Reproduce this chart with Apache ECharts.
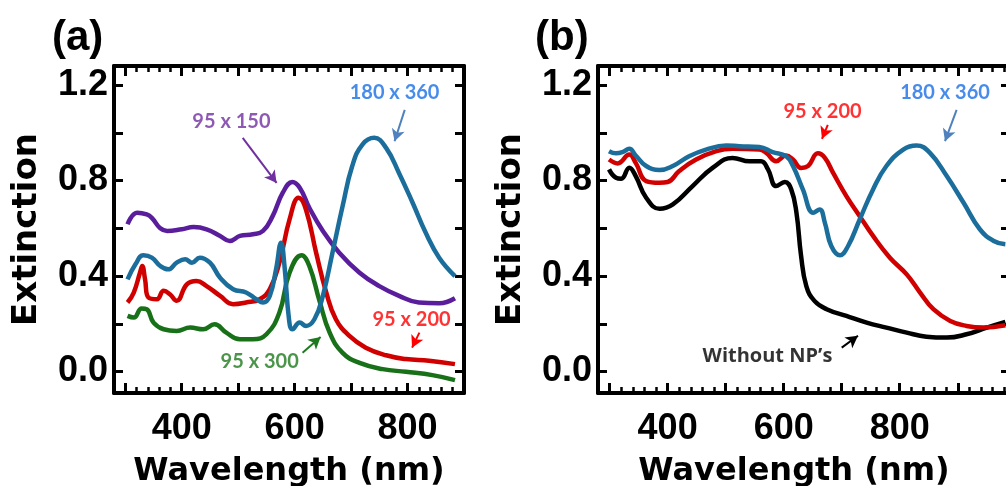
<!DOCTYPE html>
<html>
<head>
<meta charset="utf-8">
<script src="https://cdn.jsdelivr.net/npm/echarts@6/dist/echarts.min.js"></script>
<style>
  html, body { margin: 0; padding: 0; background: #fff; }
  #chart { width: 1006px; height: 486px; }
</style>
</head>
<body>
<div id="chart"></div>
<script>
// ---- panel (a) ----
const wlA150 = [304, 321, 338, 347, 362, 374, 400, 421, 444, 468, 485, 503, 526, 544, 561, 579, 596, 609, 626, 650, 679, 715, 750, 785, 820, 856, 884];
const extA150 = [0.617, 0.665, 0.658, 0.644, 0.600, 0.589, 0.596, 0.605, 0.596, 0.568, 0.547, 0.568, 0.575, 0.589, 0.651, 0.749, 0.794, 0.770, 0.686, 0.589, 0.498, 0.414, 0.358, 0.317, 0.289, 0.286, 0.307];

const wlA200 = [304, 315, 326, 330, 335, 341, 356, 368, 379, 391, 409, 426, 444, 468, 491, 514, 538, 556, 573, 591, 607, 620, 638, 656, 673, 697, 726, 762, 797, 838, 884];
const extA200 = [0.289, 0.331, 0.414, 0.442, 0.386, 0.310, 0.303, 0.338, 0.324, 0.296, 0.365, 0.379, 0.358, 0.317, 0.282, 0.289, 0.303, 0.345, 0.456, 0.637, 0.728, 0.679, 0.498, 0.331, 0.219, 0.149, 0.100, 0.068, 0.052, 0.045, 0.031];

const wlA300 = [304, 315, 329, 338, 350, 368, 391, 415, 438, 458, 479, 503, 526, 550, 573, 591, 612, 626, 644, 662, 685, 715, 756, 797, 844, 884];
const extA300 = [0.233, 0.226, 0.264, 0.261, 0.205, 0.177, 0.170, 0.184, 0.177, 0.198, 0.163, 0.135, 0.135, 0.156, 0.247, 0.414, 0.487, 0.442, 0.296, 0.163, 0.078, 0.036, 0.010, -0.001, -0.015, -0.036];

const wlA360 = [304, 318, 332, 347, 362, 376, 391, 406, 418, 432, 450, 468, 491, 514, 532, 544, 556, 567, 576, 582, 590, 596, 609, 620, 635, 650, 667, 685, 702, 720, 741, 762, 785, 809, 832, 856, 884];
const extA360 = [0.386, 0.449, 0.487, 0.477, 0.442, 0.428, 0.456, 0.470, 0.456, 0.477, 0.456, 0.393, 0.345, 0.331, 0.303, 0.289, 0.317, 0.428, 0.540, 0.442, 0.219, 0.177, 0.205, 0.191, 0.219, 0.317, 0.498, 0.693, 0.861, 0.951, 0.979, 0.937, 0.831, 0.707, 0.582, 0.477, 0.400];

// ---- panel (b) ----
const wlB360 = [299, 311, 322, 334, 345, 363, 386, 409, 437, 466, 501, 524, 558, 581, 604, 616, 633, 651, 662, 671, 682, 697, 711, 731, 754, 777, 806, 829, 852, 881, 910, 938, 962, 982];
const extB360 = [0.923, 0.914, 0.919, 0.933, 0.905, 0.861, 0.844, 0.861, 0.902, 0.930, 0.947, 0.944, 0.941, 0.919, 0.902, 0.861, 0.763, 0.665, 0.679, 0.623, 0.526, 0.487, 0.526, 0.637, 0.763, 0.861, 0.930, 0.947, 0.916, 0.819, 0.707, 0.596, 0.547, 0.533];

const wlB200 = [299, 314, 334, 345, 363, 386, 400, 420, 449, 484, 512, 558, 570, 587, 604, 616, 630, 642, 659, 671, 685, 708, 731, 754, 783, 812, 835, 858, 887, 915, 944, 982];
const extB200 = [0.888, 0.872, 0.909, 0.874, 0.798, 0.791, 0.794, 0.840, 0.888, 0.923, 0.933, 0.930, 0.916, 0.881, 0.905, 0.888, 0.853, 0.861, 0.914, 0.895, 0.833, 0.735, 0.651, 0.568, 0.477, 0.407, 0.331, 0.261, 0.212, 0.191, 0.184, 0.194];

const wlB0 = [299, 311, 320, 334, 345, 363, 386, 409, 443, 478, 512, 541, 561, 573, 587, 602, 613, 622, 630, 639, 653, 674, 708, 743, 777, 812, 846, 881, 915, 950, 982];
const extB0 = [0.847, 0.812, 0.808, 0.854, 0.819, 0.728, 0.682, 0.700, 0.777, 0.854, 0.895, 0.881, 0.881, 0.847, 0.777, 0.794, 0.763, 0.665, 0.484, 0.358, 0.296, 0.261, 0.233, 0.205, 0.184, 0.163, 0.146, 0.142, 0.156, 0.184, 0.208];

// ---- axes ----
const yTicks = [0, 0.2, 0.4, 0.6, 0.8, 1.0, 1.2];
const yLabels = [0, 0.4, 0.8, 1.2];
const xLabels = [400, 600, 800];
const xMajorA = [300, 400, 500, 600, 700, 800, 900];
const xMajorB = [300, 400, 500, 600, 700, 800, 900];
const xMinor = [];
for (let v = 300; v <= 980; v += 20) xMinor.push(v);

// ---- annotations: [text, color, textX, textY, arrowFrom, arrowTo, arrowColor] ----
const notesA = [
  ["180 x 360", "#1A6FE6", 777, 1.17, [795, 1.096], [777, 0.965], "#4F81BD"],
  ["95 x 150", "#7030A0", 488, 1.046, [508, 0.979], [568, 0.79], "#7030A0"],
  ["95 x 200", "#FF0000", 807, 0.218, [821, 0.163], [808, 0.10], "#FF0000"],
  ["95 x 300", "#1E7A1E", 538, 0.042, [614, 0.079], [646, 0.145], "#1E7A1E"],
];
const notesB = [
  ["95 x 200", "#FF0000", 667, 1.088, [676, 1.033], [666, 0.975], "#FF0000"],
  ["180 x 360", "#1A6FE6", 878, 1.17, [898, 1.096], [878, 0.965], "#4F81BD"],
  ["Without NP\u2019s", "#000000", 572, 0.063, [700, 0.10], [728, 0.15], "#000000"],
];

const YMIN = -0.09, YMAX = 1.28;
const boldFont = "Liberation Sans";
const titleFont = "DejaVu Sans";

function pairs(xs, ys) {
  return xs.map((x, i) => [x, ys[i]]);
}

function xMain(gridIndex, max, position, showLabels, ticks) {
  return {
    type: "value",
    gridIndex: gridIndex,
    position: position,
    min: 280,
    max: max,
    axisLine: { show: true, onZero: false, lineStyle: { color: "#000", width: 4 } },
    axisTick: { show: true, inside: true, length: 10, customValues: ticks, lineStyle: { color: "#000", width: 3 } },
    axisLabel: {
      show: showLabels,
      customValues: xLabels,
      color: "#000",
      fontFamily: boldFont,
      fontWeight: "bold",
      fontSize: 36,
      margin: 18,
    },
    splitLine: { show: false },
  };
}

function xMinorAxis(gridIndex, max, position) {
  return {
    type: "value",
    gridIndex: gridIndex,
    position: position,
    min: 280,
    max: max,
    axisLine: { show: false, onZero: false },
    axisTick: { show: true, inside: true, length: 6, customValues: xMinor.filter((v) => v < max), lineStyle: { color: "#000", width: 2.5 } },
    axisLabel: { show: false },
    splitLine: { show: false },
  };
}

function yMain(gridIndex, position, showLabels) {
  return {
    type: "value",
    gridIndex: gridIndex,
    position: position,
    min: YMIN,
    max: YMAX,
    name: showLabels ? "Extinction" : "",
    nameLocation: "middle",
    nameRotate: 90,
    nameGap: 70,
    nameTextStyle: { fontFamily: titleFont, fontWeight: "bold", fontSize: 34, color: "#000" },
    axisLine: { show: true, onZero: false, lineStyle: { color: "#000", width: 4 } },
    axisTick: { show: true, inside: true, length: 9, customValues: yTicks, lineStyle: { color: "#000", width: 3 } },
    axisLabel: {
      show: showLabels,
      customValues: yLabels,
      formatter: (v) => v.toFixed(1),
      color: "#000",
      fontFamily: boldFont,
      fontWeight: "bold",
      fontSize: 36,
      margin: 6,
    },
    splitLine: { show: false },
  };
}

function yHidden(gridIndex) {
  return { type: "value", gridIndex: gridIndex, min: YMIN, max: YMAX, show: false };
}

function curve(name, xs, ys, color, xi, yi) {
  return {
    name: name,
    type: "line",
    xAxisIndex: xi,
    yAxisIndex: yi,
    data: pairs(xs, ys),
    showSymbol: false,
    smooth: 0.45,
    lineStyle: { color: color, width: 4.5 },
    itemStyle: { color: color },
    z: 3,
  };
}

function noteSeries(notes, xi, yi) {
  return {
    type: "scatter",
    xAxisIndex: xi,
    yAxisIndex: yi,
    symbolSize: 0,
    silent: true,
    data: notes.map((n) => ({
      value: [n[2], n[3]],
      label: {
        show: true,
        position: "inside",
        formatter: n[0],
        color: n[1],
        fontFamily: n[0].startsWith("Without") ? "Open Sans" : "Lato",
        fontWeight: "bold",
        fontSize: 20,
      },
    })),
    markLine: {
      silent: true,
      symbol: ["none", "arrow"],
      symbolSize: [10, 12],
      label: { show: false },
      data: notes.map((n) => [
        { coord: n[4], lineStyle: { color: n[6], width: 2, type: "solid" } },
        { coord: n[5] },
      ]),
    },
  };
}

const xName = {
  name: "Wavelength (nm)",
  nameLocation: "middle",
  nameGap: 79,
  nameMoveOverlap: false,
};

const chartDom = document.getElementById("chart");
const myChart = echarts.init(chartDom);
const gridA = { left: 114, top: 66, width: 350, height: 327, outerBoundsMode: "none", containLabel: false };
const gridB = { left: 598, top: 66, width: 412, height: 327, outerBoundsMode: "none", containLabel: false };
const option = {
  animation: false,
  backgroundColor: "#fff",
  graphic: [
    { type: "text", left: 52, top: 17, style: { text: "(a)", font: "bold 42px Liberation Sans", fill: "#000" } },
    { type: "text", left: 535, top: 17, style: { text: "(b)", font: "bold 42px Liberation Sans", fill: "#000" } },
  ],
  grid: [gridA, Object.assign({}, gridA), gridB, Object.assign({}, gridB)],
  xAxis: [
    Object.assign(xMain(0, 900, "bottom", true, xMajorA), xName, {
      nameTextStyle: { fontFamily: titleFont, fontWeight: "bold", fontSize: 32, color: "#000", verticalAlign: "middle" },
    }),
    xMain(0, 900, "top", false, xMajorA),
    xMinorAxis(1, 900, "bottom"),
    xMinorAxis(1, 900, "top"),
    Object.assign(xMain(2, 990, "bottom", true, xMajorB), xName, {
      nameTextStyle: { fontFamily: titleFont, fontWeight: "bold", fontSize: 32, color: "#000", verticalAlign: "middle", padding: [0, 20, 0, 0] },
    }),
    xMain(2, 990, "top", false, xMajorB),
    xMinorAxis(3, 990, "bottom"),
    xMinorAxis(3, 990, "top"),
  ],
  yAxis: [
    yMain(0, "left", true),
    yMain(0, "right", false),
    yHidden(1),
    yMain(2, "left", true),
    yMain(2, "right", false),
    yHidden(3),
  ],
  series: [
    curve("95 x 150", wlA150, extA150, "#5A1E9C", 0, 0),
    curve("95 x 200", wlA200, extA200, "#D00000", 0, 0),
    curve("95 x 300", wlA300, extA300, "#187018", 0, 0),
    curve("180 x 360", wlA360, extA360, "#1B6E9B", 0, 0),
    curve("Without NP's", wlB0, extB0, "#000000", 4, 3),
    curve("95 x 200", wlB200, extB200, "#D00000", 4, 3),
    curve("180 x 360", wlB360, extB360, "#1B6E9B", 4, 3),
    noteSeries(notesA, 0, 0),
    noteSeries(notesB, 4, 3),
  ],
};
myChart.setOption(option);
window.addEventListener("resize", () => {
  myChart.resize();
});
</script>
</body>
</html>
